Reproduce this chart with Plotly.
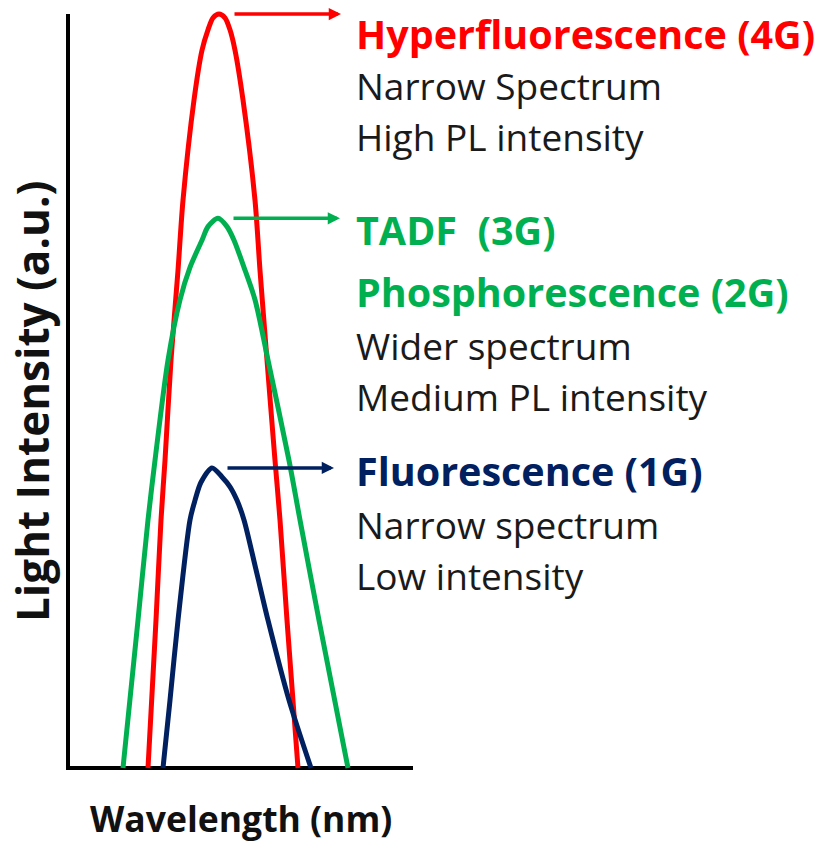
import plotly.graph_objects as go

# Relative wavelength (arbitrary units) and normalised PL intensity of each emitter generation
hf_wl = [80, 88, 93, 97, 103, 110, 115, 126, 134, 140, 145, 151,
         157, 162, 167, 175, 187, 192, 199, 207, 212, 219, 230]
hf_int = [0.0, 0.196, 0.329, 0.408, 0.541, 0.660, 0.753, 0.886, 0.952, 0.979, 0.995, 1.0,
          0.995, 0.979, 0.952, 0.886, 0.753, 0.660, 0.541, 0.408, 0.329, 0.196, 0.0]

ph_wl = [55, 70, 80, 87, 100, 112, 122, 134, 140, 150,
         159, 166, 176, 187, 200, 221, 232, 251, 280]
ph_int = [0.0, 0.196, 0.329, 0.408, 0.541, 0.621, 0.664, 0.700, 0.718, 0.729,
          0.718, 0.700, 0.664, 0.621, 0.541, 0.408, 0.329, 0.196, 0.0]

fl_wl = [95, 102, 110, 122, 127, 133, 144, 154, 162, 169, 176, 188, 200, 221, 243]
fl_int = [0.0, 0.090, 0.196, 0.329, 0.355, 0.379, 0.398,
          0.386, 0.373, 0.355, 0.329, 0.263, 0.196, 0.090, 0.0]

RED = "#FF0000"
GREEN = "#00B050"
NAVY = "#002060"
INK = "#1a1a1a"

series = [
    (hf_wl, hf_int, RED),
    (ph_wl, ph_int, GREEN),
    (fl_wl, fl_int, NAVY),
]

# Description lines next to each peak: (text, colour, bold)
hf_lines = [("Hyperfluorescence (4G)", RED, True), ("Narrow Spectrum", INK, False),
            ("High PL intensity", INK, False)]
ph_lines = [("TADF  (3G)", GREEN, True), ("Phosphorescence (2G)", GREEN, True),
            ("Wider spectrum", INK, False), ("Medium PL intensity", INK, False)]
fl_lines = [("Fluorescence (1G)", NAVY, True), ("Narrow spectrum", INK, False),
            ("Low intensity", INK, False)]
line_rows_px = [34, 85, 136, 230, 292, 345, 396, 471, 524, 575]

FONT = "Open Sans"
Y0_PX = 768                 # pixel row of the wavelength axis
PX_PER_Y = 754              # pixels per unit intensity

fig = go.Figure()
for wl, inten, col in series:
    fig.add_trace(go.Scatter(x=wl, y=inten, mode="lines",
                             line=dict(color=col, width=5, shape="spline", smoothing=0.8),
                             hoverinfo="skip", showlegend=False))

# horizontal arrows from each peak to its description
for wl, inten, col in series:
    pk = inten.index(max(inten))
    px, py = wl[pk], inten[pk]
    fig.add_annotation(x=px + 122, y=py, ax=px + 14, ay=py, xref="x", yref="y",
                       axref="x", ayref="y", text="", showarrow=True,
                       arrowhead=2, arrowsize=0.7, arrowwidth=3.5, arrowcolor=col,
                       standoff=0, startstandoff=0)

all_lines = hf_lines + ph_lines + fl_lines
for (txt, col, bold), row in zip(all_lines, line_rows_px):
    fig.add_annotation(x=286, y=(Y0_PX - row) / PX_PER_Y, xref="x", yref="y",
                       text=txt, showarrow=False, xanchor="left", yanchor="middle",
                       font=dict(family=FONT, size=39.5 if bold else 37, color=col,
                                 weight=700 if bold else 400))

# axis lines
fig.add_shape(type="line", x0=-2, x1=345, y0=0, y1=0, xref="x", yref="y",
              line=dict(color="black", width=4), layer="below")
fig.add_shape(type="line", x0=0, x1=0, y0=-2 / PX_PER_Y, y1=1.0, xref="x", yref="y",
              line=dict(color="black", width=4), layer="below")

# axis titles
fig.add_annotation(x=(241 - 58) / 365, y=0, xref="paper", yref="paper",
                   yshift=-66, text="Wavelength (nm)", showarrow=False,
                   xanchor="center", yanchor="bottom",
                   font=dict(family=FONT, size=35.5, color="#111111", weight=700))
fig.add_annotation(x=(32 - 58) / 365, y=(778 - 402) / 774, xref="paper", yref="paper",
                   text="Light Intensity (a.u.)", showarrow=False, textangle=-90,
                   xanchor="center", yanchor="middle",
                   font=dict(family=FONT, size=44, color="#111111", weight=700))

fig.update_layout(
    width=820, height=842,
    margin=dict(l=58, r=397, t=4, b=64),
    paper_bgcolor="white", plot_bgcolor="white",
    xaxis=dict(range=[-10, 355], visible=False, fixedrange=True),
    yaxis=dict(range=[-10 / PX_PER_Y, 1 + 10 / PX_PER_Y], visible=False, fixedrange=True),
)

fig.write_html("out.html")
